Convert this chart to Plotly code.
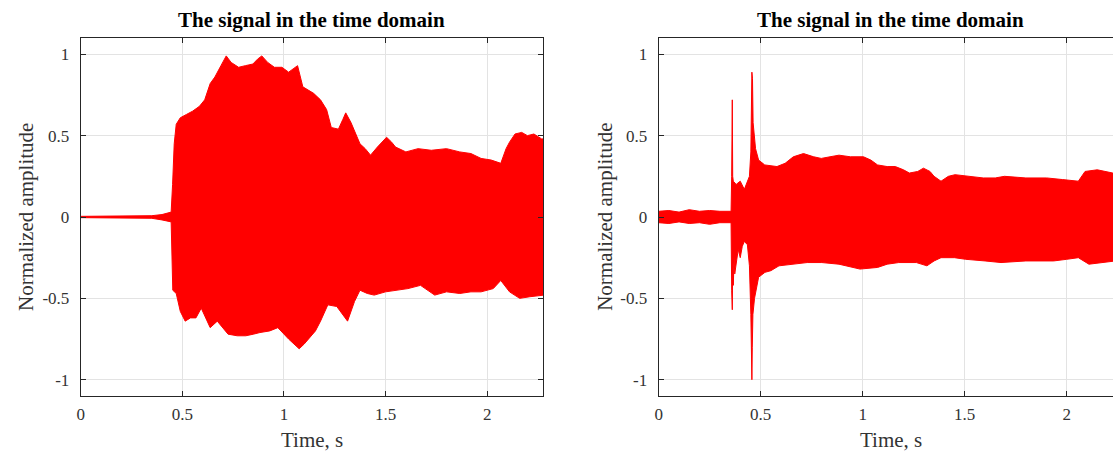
import plotly.graph_objects as go

# ---------------- data (envelopes) ----------------
# Left panel: upper envelope
t_up_a = [0.0, 0.10, 0.20, 0.30, 0.35, 0.40, 0.43, 0.445, 0.452, 0.46, 0.47, 0.49, 0.52, 0.55, 0.584,
          0.61, 0.637, 0.66, 0.69, 0.716, 0.74, 0.777, 0.81, 0.847, 0.87, 0.891, 0.92, 0.953, 0.99,
          1.023, 1.045, 1.067, 1.093, 1.12, 1.146, 1.18, 1.21, 1.233, 1.268, 1.29, 1.304, 1.33, 1.35,
          1.374, 1.40, 1.426, 1.46, 1.505, 1.53, 1.549, 1.60, 1.66, 1.725, 1.80, 1.865, 1.92, 1.97,
          2.02, 2.067, 2.08, 2.093, 2.11, 2.137, 2.17, 2.198, 2.23, 2.268, 2.28]
a_up_a = [0.004, 0.004, 0.004, 0.005, 0.008, 0.015, 0.025, 0.03, 0.2, 0.45, 0.57, 0.61, 0.63, 0.65, 0.68,
          0.72, 0.82, 0.86, 0.93, 0.99, 0.95, 0.92, 0.93, 0.94, 0.97, 0.99, 0.95, 0.92, 0.92,
          0.89, 0.91, 0.93, 0.80, 0.78, 0.76, 0.72, 0.66, 0.55, 0.54, 0.60, 0.64, 0.58, 0.52,
          0.45, 0.42, 0.38, 0.43, 0.49, 0.46, 0.43, 0.40, 0.42, 0.41, 0.42, 0.40, 0.39, 0.36,
          0.35, 0.33, 0.37, 0.42, 0.46, 0.51, 0.52, 0.50, 0.51, 0.48, 0.48]
# Left panel: lower envelope
t_lo_a = [0.0, 0.10, 0.20, 0.30, 0.35, 0.40, 0.43, 0.445, 0.453, 0.47, 0.49, 0.514, 0.54, 0.567, 0.593,
          0.615, 0.637, 0.672, 0.70, 0.725, 0.77, 0.812, 0.85, 0.882, 0.93, 0.970, 1.023, 1.05, 1.075,
          1.10, 1.128, 1.155, 1.18, 1.216, 1.26, 1.29, 1.313, 1.347, 1.374, 1.41, 1.444, 1.50, 1.549,
          1.61, 1.672, 1.742, 1.80, 1.865, 1.92, 1.97, 2.03, 2.067, 2.11, 2.16, 2.21, 2.268, 2.28]
a_lo_a = [-0.004, -0.004, -0.004, -0.005, -0.008, -0.018, -0.025, -0.03, -0.45, -0.47, -0.58, -0.64, -0.62, -0.62, -0.56,
          -0.62, -0.68, -0.64, -0.68, -0.72, -0.73, -0.73, -0.72, -0.71, -0.70, -0.68, -0.75, -0.78, -0.81,
          -0.78, -0.74, -0.70, -0.64, -0.54, -0.55, -0.60, -0.64, -0.52, -0.45, -0.47, -0.48, -0.46, -0.45,
          -0.44, -0.42, -0.48, -0.46, -0.47, -0.46, -0.46, -0.44, -0.39, -0.46, -0.50, -0.49, -0.48, -0.48]

# Right panel: upper envelope
t_up_b = [0.0, 0.05, 0.10, 0.15, 0.20, 0.25, 0.30, 0.355, 0.358, 0.361, 0.363, 0.366, 0.38, 0.40, 0.42,
          0.435, 0.445, 0.452, 0.457, 0.460, 0.463, 0.468, 0.475, 0.49, 0.52, 0.58, 0.62, 0.66, 0.71,
          0.76, 0.797, 0.84, 0.884, 0.94, 1.004, 1.04, 1.073, 1.12, 1.16, 1.20, 1.229, 1.27, 1.298,
          1.33, 1.35, 1.384, 1.42, 1.453, 1.52, 1.591, 1.65, 1.695, 1.80, 1.902, 1.98, 2.057, 2.09,
          2.15, 2.226, 2.24]
a_up_b = [0.035, 0.04, 0.03, 0.045, 0.035, 0.04, 0.035, 0.035, 0.25, 0.72, 0.25, 0.22, 0.20, 0.22, 0.17,
          0.22, 0.25, 0.40, 0.89, 0.85, 0.58, 0.50, 0.42, 0.35, 0.32, 0.31, 0.33, 0.37, 0.39,
          0.37, 0.36, 0.37, 0.38, 0.37, 0.37, 0.35, 0.32, 0.31, 0.31, 0.29, 0.27, 0.28, 0.30,
          0.28, 0.25, 0.22, 0.25, 0.26, 0.25, 0.24, 0.24, 0.25, 0.24, 0.24, 0.23, 0.22, 0.28,
          0.29, 0.27, 0.27]
# Right panel: lower envelope
t_lo_b = [0.0, 0.05, 0.10, 0.15, 0.20, 0.25, 0.30, 0.355, 0.358, 0.361, 0.363, 0.366, 0.370, 0.373, 0.39,
          0.40, 0.41, 0.42, 0.435, 0.445, 0.452, 0.455, 0.457, 0.459, 0.462, 0.47, 0.49, 0.521, 0.55,
          0.59, 0.65, 0.728, 0.80, 0.884, 0.987, 1.073, 1.12, 1.177, 1.263, 1.315, 1.35, 1.384, 1.45,
          1.505, 1.60, 1.678, 1.80, 1.936, 2.00, 2.057, 2.109, 2.17, 2.226, 2.24]
a_lo_b = [-0.035, -0.04, -0.03, -0.04, -0.035, -0.045, -0.035, -0.035, -0.45, -0.57, -0.30, -0.42, -0.25, -0.35, -0.20,
          -0.25, -0.18, -0.15, -0.17, -0.30, -0.60, -0.85, -1.00, -0.80, -0.60, -0.50, -0.37, -0.34, -0.33,
          -0.30, -0.29, -0.28, -0.28, -0.29, -0.32, -0.31, -0.29, -0.28, -0.28, -0.30, -0.27, -0.25, -0.25,
          -0.26, -0.27, -0.28, -0.27, -0.27, -0.26, -0.25, -0.29, -0.28, -0.27, -0.27]

x_ticks = [0, 0.5, 1, 1.5, 2]
x_tick_text = ["0", "0.5", "1", "1.5", "2"]
y_ticks = [-1, -0.5, 0, 0.5, 1]
y_tick_text = ["-1", "-0.5", "0", "0.5", "1"]

title_text = "The signal in the time domain"
x_title = "Time, s"
y_title = "Normalized amplitude"

# ---------------- figure ----------------
RED = "#ff0000"
AX = "#262626"
LBL = "#333333"
GRID = "#e3e3e3"
SERIF = "Liberation Serif, Times New Roman, serif"

fig = go.Figure()

def add_env(t_lo, a_lo, t_up, a_up, xa, ya):
    fig.add_trace(go.Scatter(x=t_lo, y=a_lo, mode="lines", line=dict(color=RED, width=1),
                             xaxis=xa, yaxis=ya, showlegend=False, hoverinfo="skip"))
    fig.add_trace(go.Scatter(x=t_up, y=a_up, mode="lines", line=dict(color=RED, width=1),
                             fill="tonexty", fillcolor=RED,
                             xaxis=xa, yaxis=ya, showlegend=False, hoverinfo="skip"))

add_env(t_lo_a, a_lo_a, t_up_a, a_up_a, "x", "y")
add_env(t_lo_b, a_lo_b, t_up_b, a_up_b, "x2", "y2")

W, H = 1113, 453
yb, yt = 396, 38
ydom = [1 - yb / H, 1 - yt / H]
xdom1 = [77 / W, 541 / W]
xdom2 = [657 / W, 1.0]

tickfont = dict(family=SERIF, size=17, color=LBL)

def xaxis(dom, rng, anchor):
    return dict(domain=dom, range=rng, anchor=anchor, tickvals=x_ticks, ticktext=x_tick_text,
                ticks="inside", ticklen=5, tickcolor=AX, showline=True, linecolor=AX, linewidth=1,
                mirror="ticks", showgrid=True, gridcolor=GRID, gridwidth=1, zeroline=False,
                tickfont=tickfont, ticklabelstandoff=3, fixedrange=True)

def yaxis(anchor, mirror):
    return dict(domain=ydom, range=[-1.1, 1.1], anchor=anchor, tickvals=y_ticks, ticktext=y_tick_text,
                ticks="inside", ticklen=5, tickcolor=AX, showline=True, linecolor=AX, linewidth=1,
                mirror=mirror, showgrid=True, gridcolor=GRID, gridwidth=1, zeroline=False,
                tickfont=tickfont, ticklabelstandoff=7, fixedrange=True)

fig.update_layout(
    width=W, height=H, autosize=False,
    margin=dict(l=0, r=0, t=0, b=0),
    paper_bgcolor="white", plot_bgcolor="white",
    xaxis=xaxis(xdom1, [0, 2.275], "y"),
    yaxis=yaxis("x", "ticks"),
    xaxis2=xaxis(xdom2, [0, 2.227], "y2"),
    yaxis2=yaxis("x2", False),
    showlegend=False,
)

annots = []
for cx, ylab_x in [(309, 22), (890, 603)]:
    annots.append(dict(text="<b>" + title_text + "</b>", x=cx / W, y=1 - 20 / H, xref="paper", yref="paper",
                       xanchor="center", yanchor="middle", showarrow=False,
                       font=dict(family=SERIF, size=21, color="black")))
    annots.append(dict(text=x_title, x=cx / W, y=1 - 440 / H, xref="paper", yref="paper",
                       xanchor="center", yanchor="middle", showarrow=False,
                       font=dict(family=SERIF, size=21, color=LBL)))
    annots.append(dict(text=y_title, x=ylab_x / W, y=1 - 217 / H, xref="paper", yref="paper",
                       xanchor="center", yanchor="middle", showarrow=False, textangle=-90,
                       font=dict(family=SERIF, size=21, color=LBL)))
fig.update_layout(annotations=annots)

fig.write_html("out.html", config={"displayModeBar": False})
